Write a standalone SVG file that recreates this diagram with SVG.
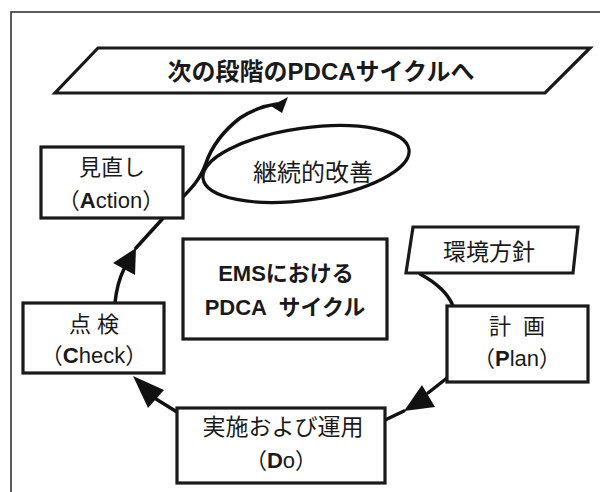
<svg xmlns="http://www.w3.org/2000/svg" width="600" height="492" viewBox="0 0 600 492">
<style>
.box{fill:#fff;stroke:#1a1a1a;stroke-width:3.2}
.ln{fill:none;stroke:#111;stroke-width:3.5;stroke-linecap:round}
.ah{fill:#111;stroke:none}
text{font-family:"Liberation Sans","Noto Sans CJK JP",sans-serif;fill:#1a1a1a;text-anchor:middle;dominant-baseline:central}
.t{font-size:22px}
.b{font-weight:bold}
</style>
<rect x="11" y="12" width="600" height="500" fill="#fff" stroke="#333" stroke-width="1.6"/>
<g id="connectors">
<path class="ln" d="M115,303 Q117,283 124,269"/>
<path class="ln" d="M136,248 L175,205 C192,188 200,180 206,163 C212,146 222,132 240,118 C252,110 262,106 277,104"/>
<polygon class="ah" points="136,248 113,263 135,275"/>
<polygon class="ah" points="288,97 271,106 282,113"/>
<path class="ln" d="M447,378 L428,393"/>
<path class="ln" d="M404,411 L385,420"/>
<polygon class="ah" points="404,411 422,385 435,407"/>
<path class="ln" d="M177,412 L156,399"/>
<polygon class="ah" points="133,376 164,390 148,408"/>
<path class="ln" d="M420,274 Q446,288 453,306"/>
</g>
<g id="next-cycle">
<polygon class="box" points="98,48 590,48 545,93 55,93"/>
<text class="b" x="321" y="71" font-size="24">次の段階のPDCAサイクルへ</text>
</g>
<g id="action">
<rect class="box" x="41" y="147" width="142" height="71"/>
<text class="t" x="112" y="167">見直し</text>
<text class="t" x="111" y="200">（<tspan class="b">A</tspan>ction）</text>
</g>
<g id="kaizen">
<ellipse cx="306" cy="164" rx="104" ry="36" transform="rotate(-8 306 164)" fill="none" stroke="#111" stroke-width="3.2"/>
<text x="313" y="172" font-size="24">継続的改善</text>
</g>
<g id="center">
<rect class="box" x="183" y="239" width="204" height="100"/>
<text class="t b" x="286" y="273">EMSにおける</text>
<text class="t b" x="285" y="307" style="white-space:pre">PDCA  サイクル</text>
</g>
<g id="policy">
<polygon class="box" points="413,227 578,227 573,273 406,273"/>
<text x="489" y="252" font-size="23">環境方針</text>
</g>
<g id="check">
<rect class="box" x="23" y="303" width="141" height="70"/>
<text class="t" x="94" y="324" style="white-space:pre">点 検</text>
<text class="t" x="94" y="355">（<tspan class="b">C</tspan>heck）</text>
</g>
<g id="plan">
<rect class="box" x="447" y="306" width="141" height="76"/>
<text class="t" x="517" y="326" style="white-space:pre">計  画</text>
<text class="t" x="517" y="358">（<tspan class="b">P</tspan>lan）</text>
</g>
<g id="do">
<rect class="box" x="177" y="408" width="208" height="75"/>
<text x="283" y="427" font-size="23">実施および運用</text>
<text class="t" x="281" y="460">（<tspan class="b">D</tspan>o）</text>
</g>
</svg>
